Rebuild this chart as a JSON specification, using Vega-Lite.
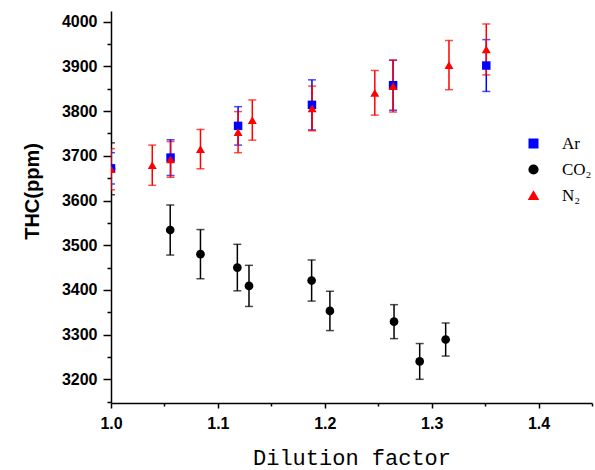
{
  "$schema": "https://vega.github.io/schema/vega-lite/v6.json",
  "width": 481,
  "height": 392,
  "autosize": {"type": "none"},
  "padding": {"left": 111, "top": 11, "right": 3, "bottom": 67},
  "background": "white",
  "config": {
    "view": {"stroke": null},
    "axis": {
      "grid": false,
      "domainColor": "#000000",
      "domainWidth": 1.5,
      "tickColor": "#000000",
      "tickWidth": 1.5,
      "labelFont": "Liberation Sans",
      "labelFontWeight": "bold",
      "labelFontSize": 16,
      "labelColor": "#000000",
      "titleColor": "#000000",
      "labelOverlap": false,
      "labelFlush": false
    }
  },
  "data": {
    "values": [
      {"g": "CO₂", "x": 1.0, "y": 3671, "e": 58},
      {"g": "CO₂", "x": 1.0554, "y": 3534, "e": 56},
      {"g": "CO₂", "x": 1.0837, "y": 3480, "e": 55},
      {"g": "CO₂", "x": 1.1182, "y": 3450, "e": 52},
      {"g": "CO₂", "x": 1.1291, "y": 3409, "e": 46},
      {"g": "CO₂", "x": 1.1877, "y": 3421, "e": 46},
      {"g": "CO₂", "x": 1.2048, "y": 3353, "e": 44},
      {"g": "CO₂", "x": 1.2648, "y": 3329, "e": 38},
      {"g": "CO₂", "x": 1.2888, "y": 3240, "e": 40},
      {"g": "CO₂", "x": 1.3131, "y": 3289, "e": 37},
      {"g": "Ar", "x": 1.0, "y": 3672, "e": 35},
      {"g": "Ar", "x": 1.0557, "y": 3696, "e": 40},
      {"g": "Ar", "x": 1.1189, "y": 3767, "e": 43},
      {"g": "Ar", "x": 1.188, "y": 3814, "e": 56},
      {"g": "Ar", "x": 1.2639, "y": 3858, "e": 56},
      {"g": "Ar", "x": 1.3511, "y": 3902, "e": 58},
      {"g": "N₂", "x": 1.0, "y": 3670, "e": 46},
      {"g": "N₂", "x": 1.0386, "y": 3679, "e": 45},
      {"g": "N₂", "x": 1.0557, "y": 3692, "e": 40},
      {"g": "N₂", "x": 1.0837, "y": 3715, "e": 44},
      {"g": "N₂", "x": 1.1189, "y": 3753, "e": 46},
      {"g": "N₂", "x": 1.1322, "y": 3780, "e": 45},
      {"g": "N₂", "x": 1.1882, "y": 3806, "e": 50},
      {"g": "N₂", "x": 1.2468, "y": 3841, "e": 50},
      {"g": "N₂", "x": 1.2639, "y": 3856, "e": 58},
      {"g": "N₂", "x": 1.3162, "y": 3903, "e": 55},
      {"g": "N₂", "x": 1.3511, "y": 3938, "e": 57}
    ]
  },
  "encoding": {
    "x": {
      "field": "x",
      "type": "quantitative",
      "scale": {"domain": [1.0, 1.45], "nice": false, "zero": false},
      "axis": {
        "title": "Dilution factor",
        "titleFont": "Liberation Mono",
        "titleFontSize": 22,
        "titleFontWeight": "normal",
        "titleBaseline": "alphabetic",
        "titleY": 61,
        "values": [1.0, 1.05, 1.1, 1.15, 1.2, 1.25, 1.3, 1.35, 1.4, 1.45],
        "format": ".1f",
        "labelExpr": "abs(datum.value*10 - round(datum.value*10)) < 0.001 ? datum.label : ''",
        "tickSize": {"condition": {"test": "abs(datum.value*10 - round(datum.value*10)) < 0.001", "value": 5}, "value": 3},
        "labelPadding": 7,
        "labelFont": "Liberation Sans",
        "labelFontWeight": "bold",
        "labelFontSize": 16
      }
    },
    "y": {
      "field": "y",
      "type": "quantitative",
      "scale": {"domain": [3147, 4024], "nice": false, "zero": false},
      "axis": {
        "title": "THC(ppm)",
        "titleFont": "Liberation Sans",
        "titleFontSize": 20,
        "titleFontWeight": "bold",
        "titleX": -69,
        "titleY": 180,
        "values": [3150, 3200, 3250, 3300, 3350, 3400, 3450, 3500, 3550, 3600, 3650, 3700, 3750, 3800, 3850, 3900, 3950, 4000],
        "format": "d",
        "labelExpr": "datum.value % 100 === 0 ? datum.label : ''",
        "tickSize": {"condition": {"test": "datum.value % 100 === 0", "value": 8}, "value": 4},
        "labelPadding": 6,
        "labelFont": "Liberation Sans",
        "labelFontWeight": "bold",
        "labelFontSize": 16
      }
    },
    "color": {
      "field": "g",
      "type": "nominal",
      "sort": null,
      "scale": {"domain": ["Ar", "CO₂", "N₂"], "range": ["#0000ff", "#000000", "#ff0000"]},
      "legend": {
        "title": null,
        "orient": "none",
        "legendX": 414,
        "legendY": 124,
        "symbolSize": 80,
        "symbolOpacity": 1,
        "labelFont": "Liberation Serif",
        "labelFontSize": 17,
        "labelColor": "#000000",
        "labelOffset": 20,
        "rowPadding": 8
      }
    }
  },
  "layer": [
    {
      "mark": {"type": "errorbar", "clip": true, "thickness": 1.5, "ticks": {"size": 8, "thickness": 1.5}},
      "encoding": {
        "yError": {"field": "e"}
      }
    },
    {
      "mark": {"type": "point", "filled": true, "opacity": 1, "clip": true},
      "encoding": {
        "shape": {
          "field": "g",
          "type": "nominal",
          "sort": null,
          "scale": {"domain": ["Ar", "CO₂", "N₂"], "range": ["square", "circle", "triangle-up"]},
          "legend": {
            "title": null,
            "orient": "none",
            "legendX": 414,
            "legendY": 124,
            "symbolSize": 80,
            "symbolOpacity": 1,
            "labelFont": "Liberation Serif",
            "labelFontSize": 17,
            "labelColor": "#000000",
            "labelOffset": 20,
            "rowPadding": 8
          }
        },
        "size": {
          "field": "g",
          "type": "nominal",
          "sort": null,
          "scale": {"domain": ["Ar", "CO₂", "N₂"], "range": [72, 80, 150]},
          "legend": null
        }
      }
    }
  ]
}
